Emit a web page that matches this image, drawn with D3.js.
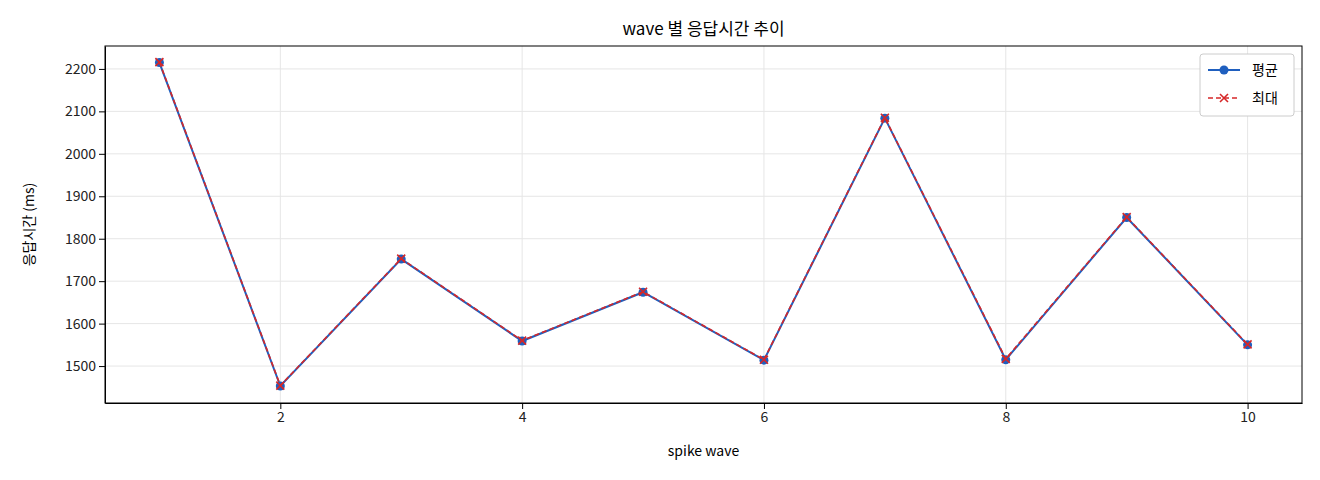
<!DOCTYPE html>
<html><head><meta charset="utf-8">
<script src="https://cdn.jsdelivr.net/npm/d3@7"></script>
<style>body{margin:0;background:#fff}text{font-family:"Noto Sans CJK KR","DejaVu Sans",sans-serif}</style>
</head><body>
<svg width="1320" height="480"></svg>
<script>
const waves = [1,2,3,4,5,6,7,8,9,10];
const avgMs = [2215,1453,1752,1559,1674,1514,2084,1515,1850,1550];
const maxMs = [2216,1454,1753,1560,1675,1515,2085,1517,1851,1551];
const yTicks = [1500,1600,1700,1800,1900,2000,2100,2200];
const xTicks = [2,4,6,8,10];

let svg = d3.select("svg");
let m = {l:105, r:1302, t:46, b:403};
let x = d3.scaleLinear().domain([0.55,10.45]).range([m.l,m.r]);
let y = d3.scaleLinear().domain([1413,2254]).range([m.b,m.t]);

// grid
svg.append("g").selectAll("line").data(xTicks).enter().append("line")
    .attr("x1",d=>x(d)).attr("x2",d=>x(d)).attr("y1",m.t).attr("y2",m.b)
    .attr("stroke","#e6e6e6");
svg.append("g").selectAll("line").data(yTicks).enter().append("line")
    .attr("x1",m.l).attr("x2",m.r).attr("y1",d=>y(d)).attr("y2",d=>y(d))
    .attr("stroke","#e6e6e6");

svg.append("g").attr("transform",`translate(0,${m.b})`)
    .call(d3.axisBottom(x).tickValues(xTicks).tickFormat(d3.format("d")).tickSizeOuter(0))
    .call(g=>g.selectAll("text").attr("font-size",14).attr("fill","#222"));
svg.append("g").attr("transform",`translate(${m.l},0)`)
    .call(d3.axisLeft(y).tickValues(yTicks).tickFormat(d3.format("d")).tickSizeOuter(0))
    .call(g=>g.selectAll("text").attr("font-size",14).attr("fill","#222"));
svg.append("rect").attr("x",m.l).attr("y",m.t).attr("width",m.r-m.l).attr("height",m.b-m.t)
    .attr("fill","none").attr("stroke","#000");

let line = d3.line().x((d,i)=>x(waves[i])).y(d=>y(d));
svg.append("path").datum(avgMs).attr("d",line).attr("fill","none").attr("stroke","#1f5fbf").attr("stroke-width",2);
svg.append("g").selectAll("circle").data(avgMs).enter().append("circle")
    .attr("cx",(d,i)=>x(waves[i])).attr("cy",d=>y(d)).attr("r",4.5).attr("fill","#1f5fbf");
svg.append("path").datum(maxMs).attr("d",line).attr("fill","none").attr("stroke","#d62728")
    .attr("stroke-width",1.6).attr("stroke-dasharray","5,3");
let cross = (g,cx,cy)=>{g.append("path").attr("d",`M${cx-4},${cy-4}L${cx+4},${cy+4}M${cx-4},${cy+4}L${cx+4},${cy-4}`)
    .attr("stroke","#d62728").attr("stroke-width",1.6);};
let cg = svg.append("g");
maxMs.forEach((d,i)=>cross(cg,x(waves[i]),y(d)));

svg.append("text").attr("x",(m.l+m.r)/2).attr("y",35).attr("text-anchor","middle").attr("font-size",17).text("wave 별 응답시간 추이");
svg.append("text").attr("x",(m.l+m.r)/2).attr("y",456).attr("text-anchor","middle").attr("font-size",14).text("spike wave");
svg.append("text").attr("transform",`translate(34,${(m.t+m.b)/2}) rotate(-90)`).attr("text-anchor","middle").attr("font-size",14).text("응답시간 (ms)");

// legend
let lg = svg.append("g").attr("transform","translate(1200,54)");
lg.append("rect").attr("width",94).attr("height",62).attr("rx",3).attr("fill","#fff").attr("stroke","#ccc");
lg.append("line").attr("x1",8).attr("x2",40).attr("y1",16).attr("y2",16).attr("stroke","#1f5fbf").attr("stroke-width",2);
lg.append("circle").attr("cx",24).attr("cy",16).attr("r",4.5).attr("fill","#1f5fbf");
lg.append("text").attr("x",52).attr("y",21).attr("font-size",14).text("평균");
lg.append("line").attr("x1",8).attr("x2",40).attr("y1",44).attr("y2",44).attr("stroke","#d62728").attr("stroke-width",1.6).attr("stroke-dasharray","5,3");
cross(lg,24,44);
lg.append("text").attr("x",52).attr("y",49).attr("font-size",14).text("최대");
</script>
</body></html>
